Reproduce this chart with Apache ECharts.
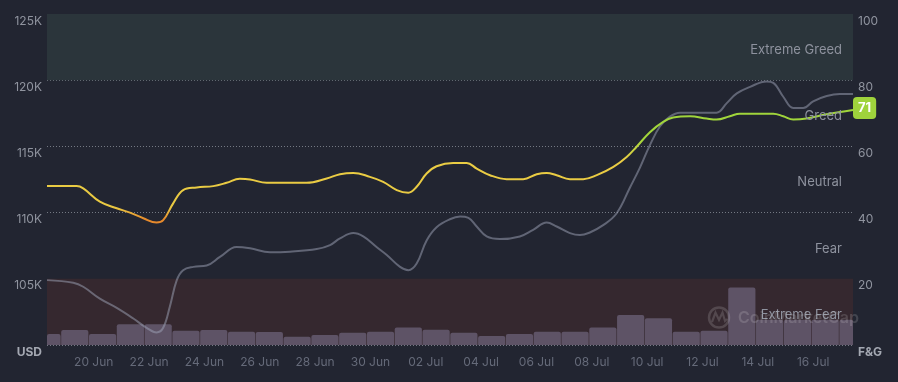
<!DOCTYPE html>
<html>
<head>
<meta charset="utf-8">
<script src="https://cdn.jsdelivr.net/npm/echarts@6/dist/echarts.min.js"></script>
<style>
html,body{margin:0;padding:0;background:#222531;}
#chart{width:898px;height:382px;}
</style>
</head>
<body>
<div id="chart"></div>
<script>
// ---- data (x in days, day 0 = 18 Jun 00:00) ----
const xTickPos = [2, 4, 6, 8, 10, 12, 14, 16, 18, 20, 22, 24, 26, 28];
const xTickLabels = ['20 Jun', '22 Jun', '24 Jun', '26 Jun', '28 Jun', '30 Jun', '02 Jul', '04 Jul', '06 Jul', '08 Jul', '10 Jul', '12 Jul', '14 Jul', '16 Jul'];
const xStart = 0.31;
const xEnd = 29.44;

const barDays = ['18 Jun', '19 Jun', '20 Jun', '21 Jun', '22 Jun', '23 Jun', '24 Jun', '25 Jun', '26 Jun', '27 Jun', '28 Jun', '29 Jun', '30 Jun',
  '01 Jul', '02 Jul', '03 Jul', '04 Jul', '05 Jul', '06 Jul', '07 Jul', '08 Jul', '09 Jul', '10 Jul', '11 Jul', '12 Jul', '13 Jul', '14 Jul', '15 Jul', '16 Jul', '17 Jul'];
const barValues = [3.3, 4.5, 3.3, 6.3, 6.3, 4.3, 4.5, 4.0, 3.9, 2.5, 3.0, 3.7, 4.0, 5.3, 4.6, 3.7, 2.7, 3.3, 4.0, 4.0, 5.3, 9.1, 8.1, 4.0, 4.3, 17.4, 7.6, 7.6, 7.6, 7.6];

const priceDays = [0.31, 1.26, 1.62, 2.22, 2.83, 3.43, 3.91, 4.27, 4.51, 4.75, 5.0, 5.23, 5.6, 6.08, 6.56, 7.16, 7.65, 8.37, 9.09, 10.06,
  10.54, 10.9, 11.38, 11.74, 12.22, 12.59, 13.07, 13.37, 13.67, 14.03, 14.39, 14.87, 15.24, 15.54, 15.84, 16.2, 16.68, 17.4, 17.88, 18.37,
  18.73, 19.21, 19.57, 19.93, 20.41, 20.9, 21.38, 21.74, 22.1, 22.46, 22.82, 23.19, 23.91, 24.51, 24.87, 25.24, 25.72, 26.32, 26.56, 26.92,
  27.28, 27.64, 28.0, 28.49, 28.97, 29.44];
const priceValues = [104900, 104700, 104400, 103500, 102800, 102000, 101300, 100950, 101300, 102900, 104900, 105650, 105900, 106000, 106650, 107400, 107300, 107000, 107050, 107250,
  107550, 108050, 108450, 108200, 107400, 106800, 105900, 105650, 106150, 107900, 108900, 109500, 109700, 109600, 108950, 108200, 108000, 108200, 108700, 109250,
  108950, 108450, 108300, 108500, 109050, 109950, 111900, 113400, 115100, 116500, 117250, 117550, 117550, 117550, 118250, 119000, 119500, 119900, 119800, 118750,
  117900, 117900, 118400, 118800, 118950, 118950];

const fgDays = [0.31, 1.38, 1.62, 2.22, 2.83, 3.31, 3.79, 4.27, 4.51, 4.87, 5.23, 5.72, 6.32, 6.8, 7.28, 7.65, 8.25, 9.69, 10.42, 10.9,
  11.38, 11.98, 12.46, 12.95, 13.37, 13.67, 14.03, 14.39, 14.99, 15.48, 15.84, 16.32, 16.92, 17.52, 18.01, 18.37, 18.73, 19.21, 19.69, 20.18,
  20.78, 21.26, 21.62, 22.1, 22.58, 22.94, 23.55, 24.15, 24.51, 24.99, 25.35, 26.56, 26.92, 27.28, 27.76, 28.49, 29.44];
const fgValues = [48, 48, 47.3, 43.3, 41.3, 40.0, 38.3, 37.0, 37.7, 42.8, 46.8, 47.6, 48.0, 49.0, 50.2, 50.0, 49.0, 49.0, 50.3, 51.6,
  52.0, 50.8, 49.3, 46.8, 46.0, 47.8, 51.8, 54.0, 55.0, 55.0, 53.3, 51.3, 50.1, 50.1, 51.6, 52.0, 51.3, 50.1, 50.1, 51.3,
  53.8, 56.8, 59.9, 64.3, 67.4, 68.7, 69.1, 68.4, 68.1, 69.1, 69.9, 69.9, 69.1, 68.1, 68.4, 69.7, 71];

const zoneNames = ['Extreme Fear', 'Fear', 'Neutral', 'Greed', 'Extreme Greed'];
const zoneFrom = [0, 20, 40, 60, 80];
const zoneTo = [20, 40, 60, 80, 100];

// ---- styles ----
const FONT = 'Inter, "Noto Sans", sans-serif';
const bandFill = { 'Extreme Fear': '#35282f', 'Extreme Greed': '#2b353b' };
const barColor = '#5e5366';
const fgColorStops = [[0, '#d9502e'], [30, '#e27c2b'], [38, '#e68b2c'], [41.5, '#e9c942'], [56, '#eacd44'], [62, '#a3d63b'], [100, '#93d13b']];

function hexToRgb(h) { return [parseInt(h.slice(1, 3), 16), parseInt(h.slice(3, 5), 16), parseInt(h.slice(5, 7), 16)]; }
function colorAt(v) {
  for (let i = 0; i < fgColorStops.length - 1; i++) {
    const a = fgColorStops[i], b = fgColorStops[i + 1];
    if (v >= a[0] && v <= b[0]) {
      const t = (v - a[0]) / (b[0] - a[0]);
      const ca = hexToRgb(a[1]), cb = hexToRgb(b[1]);
      return 'rgb(' + ca.map((c, k) => Math.round(c + (cb[k] - c) * t)).join(',') + ')';
    }
  }
  return fgColorStops[fgColorStops.length - 1][1];
}
const vmColors = [];
for (let v = 0; v <= 100; v++) vmColors.push(colorAt(v));

const pricePoints = priceDays.map((d, i) => [d, priceValues[i]]);
const fgPoints = fgDays.map((d, i) => [d, fgValues[i]]);
const barPoints = barValues.map((v, i) => [barDays[i], v]);

const bandAreas = zoneNames.filter(n => bandFill[n]).map(n => {
  const i = zoneNames.indexOf(n);
  return [{ yAxis: zoneFrom[i], itemStyle: { color: bandFill[n] } }, { yAxis: zoneTo[i] }];
});
const labelAreas = zoneNames.map((n, i) => [{
  name: n, yAxis: zoneFrom[i], itemStyle: { color: 'transparent' },
  label: { show: true, position: 'insideRight', distance: 11, offset: [0, 3], formatter: n, color: '#8e929e', fontSize: 13, fontFamily: FONT }
}, { yAxis: zoneTo[i] }]);

const gridLine = { show: true, lineStyle: { color: '#8a8e99', width: 1, type: [1, 2], opacity: 0.8 } };
const wm = 'rgba(255,255,255,0.15)';

function renderBar(params, api) {
  const base = api.coord([api.value(0), 0]);
  const top = api.coord([api.value(0), api.value(1)]);
  const w = api.size([1, 0])[0];
  const cs = params.coordSys;
  const rect = echarts.graphic.clipRectByRect(
    { x: base[0] - w / 2 + 0.3, y: top[1], width: w - 0.6, height: base[1] - top[1] },
    { x: cs.x, y: cs.y, width: cs.width, height: cs.height }
  );
  if (!rect) return null;
  return { type: 'rect', shape: { x: rect.x, y: rect.y, width: rect.width, height: rect.height, r: [2, 2, 0, 0] }, style: { fill: barColor } };
}

const chart = echarts.init(document.getElementById('chart'), null, { renderer: 'canvas' });
chart.setOption({
  backgroundColor: '#222531',
  animation: false,
  grid: { left: 47, right: 45, top: 14, bottom: 37 },
  xAxis: [
    {
      type: 'value', min: xStart, max: xEnd,
      axisLine: { show: false }, axisTick: { show: false }, splitLine: { show: false },
      axisLabel: {
        customValues: xTickPos,
        formatter: v => { const i = xTickPos.indexOf(v); return i >= 0 ? xTickLabels[i] : ''; },
        color: '#656a79', fontSize: 12, fontFamily: FONT, margin: 11
      }
    },
    { type: 'category', data: barDays, boundaryGap: false, show: false }
  ],
  yAxis: [
    {
      type: 'value', position: 'left', min: 100000, max: 125000, interval: 5000,
      axisLine: { show: false }, axisTick: { show: false }, splitLine: gridLine,
      axisLabel: {
        margin: 5, verticalAlign: 'top', lineHeight: 14, fontFamily: FONT, fontSize: 12, color: '#90949f',
        formatter: v => v === 100000 ? '{b|USD}' : (v / 1000) + 'K',
        rich: { b: { fontWeight: 'bold', color: '#a4a8b2', fontSize: 12, fontFamily: FONT } }
      }
    },
    {
      type: 'value', position: 'right', min: 0, max: 100, interval: 20,
      axisLine: { show: false }, axisTick: { show: false }, splitLine: { show: false },
      axisLabel: {
        margin: 5, verticalAlign: 'top', lineHeight: 14, fontFamily: FONT, fontSize: 12, color: '#90949f',
        formatter: v => v === 0 ? '{b|F&G}' : String(v),
        rich: { b: { fontWeight: 'bold', color: '#a4a8b2', fontSize: 12, fontFamily: FONT } }
      }
    }
  ],
  visualMap: {
    show: false, type: 'continuous', seriesIndex: 2, dimension: 1, min: 0, max: 100,
    inRange: { color: vmColors }
  },
  series: [
    {
      name: 'Volume', type: 'custom', xAxisIndex: 1, yAxisIndex: 1, data: barPoints,
      encode: { x: 0, y: 1 }, renderItem: renderBar, z: 2, silent: true
    },
    {
      name: 'Price', type: 'line', xAxisIndex: 0, yAxisIndex: 0, data: pricePoints,
      smooth: 0.4, showSymbol: false, z: 3, silent: true,
      lineStyle: { color: 'rgba(160,166,186,0.5)', width: 2 }
    },
    {
      name: 'Fear & Greed', type: 'line', xAxisIndex: 0, yAxisIndex: 1, data: fgPoints,
      smooth: 0.4, showSymbol: false, z: 4, silent: true,
      lineStyle: { width: 2 },
      endLabel: {
        show: true, formatter: p => String(p.value[1]), distance: 0, offset: [0, -2],
        backgroundColor: '#9fd33c', color: '#ffffff', fontWeight: 'bold', fontSize: 13, fontFamily: FONT,
        padding: [4, 5, 4, 5], borderRadius: 4, lineHeight: 14
      },
      markArea: { silent: true, z: 1, label: { show: false }, data: bandAreas }
    },
    {
      name: 'Zones', type: 'line', xAxisIndex: 0, yAxisIndex: 1, data: fgPoints,
      showSymbol: false, z: 10, silent: true, lineStyle: { opacity: 0 },
      markArea: { silent: true, z: 10, data: labelAreas }
    }
  ],
  graphic: [
    { type: 'circle', z: 20, silent: true, x: 719, y: 317.5, shape: { cx: 0, cy: 0, r: 10 }, style: { fill: 'none', stroke: wm, lineWidth: 2.5 } },
    { type: 'polyline', z: 20, silent: true, x: 719, y: 317.5, shape: { points: [[-7, 4.5], [-3.5, -5], [0, 2.5], [3.5, -5], [6, 3.5], [8, 1.5]] }, style: { fill: 'none', stroke: wm, lineWidth: 2.2 } },
    { type: 'text', z: 20, silent: true, x: 738, y: 318, style: { text: 'CoinMarketCap', fill: wm, font: '600 16px Inter, "Noto Sans", sans-serif', verticalAlign: 'middle', align: 'left' } }
  ]
});
</script>
</body>
</html>
